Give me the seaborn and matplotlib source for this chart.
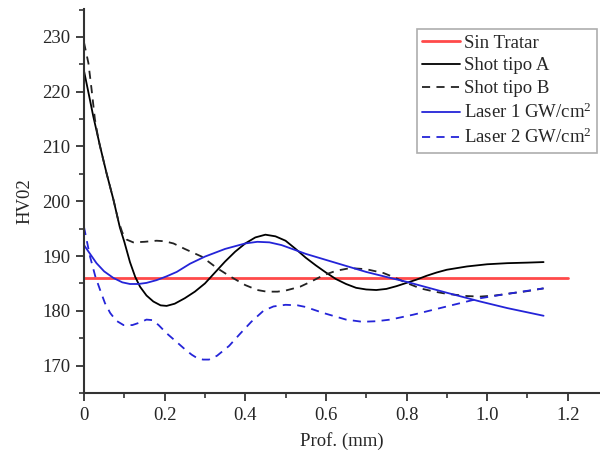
import matplotlib
matplotlib.use("Agg")
import matplotlib.pyplot as plt
import seaborn as sns
import pandas as pd
from matplotlib.ticker import MultipleLocator

# ---- data ----
x_sin = [0.0, 1.2]
y_sin = [186.0, 186.0]

x_a = [0.0, 0.012, 0.023, 0.04, 0.056, 0.073, 0.089, 0.1, 0.114, 0.127, 0.139, 0.155, 0.172,
       0.19, 0.205, 0.225, 0.25, 0.275, 0.3, 0.325, 0.35, 0.375, 0.4, 0.425, 0.45, 0.475, 0.5,
       0.525, 0.55, 0.575, 0.6, 0.625, 0.65, 0.675, 0.7, 0.725, 0.75, 0.775, 0.8, 0.825, 0.85,
       0.875, 0.9, 0.95, 1.0, 1.05, 1.1, 1.14]
y_a = [223.8, 219.5, 215.5, 210.0, 205.1, 200.3, 195.2, 192.6, 188.9, 186.2, 184.4, 182.8, 181.7,
       181.0, 180.9, 181.3, 182.3, 183.5, 185.0, 187.0, 189.0, 190.8, 192.3, 193.4, 193.9, 193.6,
       192.8, 191.3, 189.7, 188.3, 187.0, 185.8, 184.9, 184.2, 183.9, 183.8, 184.0, 184.5, 185.1,
       185.7, 186.4, 187.0, 187.5, 188.1, 188.5, 188.7, 188.8, 188.9]

x_b = [0.0, 0.011, 0.019, 0.027, 0.036, 0.045, 0.056, 0.073, 0.085, 0.095, 0.106, 0.122, 0.15,
       0.18, 0.2, 0.222, 0.25, 0.292, 0.33, 0.362, 0.4, 0.43, 0.453, 0.48, 0.5, 0.536, 0.565,
       0.594, 0.625, 0.66, 0.7, 0.743, 0.77, 0.8, 0.834, 0.87, 0.9, 0.95, 0.983, 1.02, 1.05,
       1.1, 1.14]
y_b = [229.0, 225.2, 220.3, 215.0, 211.2, 208.4, 205.1, 200.3, 196.5, 194.3, 193.0, 192.5, 192.6,
       192.8, 192.7, 192.3, 191.3, 189.9, 187.8, 186.3, 184.7, 183.8, 183.5, 183.5, 183.7, 184.4,
       185.4, 186.5, 187.3, 187.8, 187.6, 186.9, 186.1, 185.1, 184.1, 183.5, 183.1, 182.7, 182.6,
       182.8, 183.1, 183.6, 184.1]

x_l1 = [0.0, 0.031, 0.05, 0.073, 0.095, 0.114, 0.135, 0.155, 0.18, 0.205, 0.23, 0.263, 0.3,
        0.35, 0.4, 0.43, 0.46, 0.49, 0.524, 0.55, 0.6, 0.65, 0.7, 0.76, 0.8, 0.9, 0.983, 1.05,
        1.14]
y_l1 = [192.0, 188.7, 187.2, 186.0, 185.2, 184.9, 184.9, 185.1, 185.6, 186.3, 187.1, 188.6, 189.9,
        191.3, 192.3, 192.6, 192.5, 192.0, 191.1, 190.4, 189.3, 188.2, 187.1, 186.0, 185.3, 183.3,
        181.7, 180.5, 179.1]

x_l2 = [0.0, 0.015, 0.028, 0.04, 0.052, 0.065, 0.08, 0.098, 0.12, 0.14, 0.155, 0.17, 0.185,
        0.205, 0.23, 0.25, 0.267, 0.28, 0.295, 0.31, 0.33, 0.36, 0.387, 0.415, 0.445, 0.47, 0.5,
        0.53, 0.55, 0.594, 0.65, 0.69, 0.725, 0.76, 0.817, 0.9, 0.983, 1.05, 1.14]
y_l2 = [195.3, 189.9, 186.3, 183.8, 181.4, 179.6, 178.2, 177.4, 177.4, 177.9, 178.4, 178.3, 177.4,
        175.9, 174.3, 173.0, 172.0, 171.4, 171.1, 171.1, 171.8, 173.6, 175.8, 178.0, 180.0, 180.8,
        181.1, 181.0, 180.7, 179.6, 178.4, 178.0, 178.1, 178.4, 179.3, 180.8, 182.3, 183.1, 184.1]

labels = ["Sin Tratar", "Shot tipo A", "Shot tipo B",
          r"Laser 1 GW/cm$^{\mathrm{2}}$", r"Laser 2 GW/cm$^{\mathrm{2}}$"]
x_ticks = [0, 0.2, 0.4, 0.6, 0.8, 1.0, 1.2]
x_ticklabels = ["0", "0.2", "0.4", "0.6", "0.8", "1.0", "1.2"]
y_ticks = [170, 180, 190, 200, 210, 220, 230]

# ---- style ----
sns.set_style("ticks")
plt.rcParams["font.family"] = ["Liberation Serif", "DejaVu Serif"]
plt.rcParams["font.size"] = 13.5
plt.rcParams["mathtext.fontset"] = "custom"
plt.rcParams["mathtext.rm"] = "Liberation Serif"
plt.rcParams["mathtext.it"] = "Liberation Serif:italic"

fig = plt.figure(figsize=(6.0, 4.59), dpi=100)
ax = fig.add_axes([0.14, 0.1438, 0.86, 0.8366])

series = [
    (x_sin, y_sin, "#ff4a4a", "-", 2.0),
    (x_a, y_a, "#000000", "-", 1.3),
    (x_b, y_b, "#222222", (0, (4.5, 3.5)), 1.3),
    (x_l1, y_l1, "#2424d8", "-", 1.3),
    (x_l2, y_l2, "#2424d8", (0, (4.5, 3.5)), 1.3),
]
for (xs, ys, c, ls, lw), lab in zip(series, labels):
    df = pd.DataFrame({"x": xs, "y": ys})
    sns.lineplot(data=df, x="x", y="y", ax=ax, color=c, linestyle=ls, linewidth=lw,
                 label=lab, sort=False, estimator=None)

ax.set_xlim(0, 1.28)
ax.set_ylim(165, 235.1)
ax.set_xticks(x_ticks)
ax.set_xticklabels(x_ticklabels)
ax.set_yticks(y_ticks)
ax.xaxis.set_minor_locator(MultipleLocator(0.1))
ax.yaxis.set_minor_locator(MultipleLocator(5))
ax.tick_params(which="major", direction="out", length=6, width=1.3, color="#333333",
               labelsize=13.5, pad=4)
ax.tick_params(which="minor", direction="out", length=3.5, width=1.2, color="#333333")
for side in ["top", "right"]:
    ax.spines[side].set_visible(False)
for side in ["left", "bottom"]:
    ax.spines[side].set_linewidth(1.5)
    ax.spines[side].set_color("#333333")

ax.set_xlabel("Prof. (mm)", fontsize=13.5, labelpad=6)
ax.set_ylabel("HV02", fontsize=13.5, labelpad=6)

leg = ax.legend(loc="upper right", bbox_to_anchor=(0.994, 0.948), borderaxespad=0,
                fancybox=False, frameon=True, fontsize=13.5, handlelength=2.0,
                handletextpad=0.2, labelspacing=0.3, borderpad=0.3)
leg.get_frame().set_edgecolor("#999999")
leg.get_frame().set_linewidth(1.2)

fig.savefig("out.png", dpi=100)
